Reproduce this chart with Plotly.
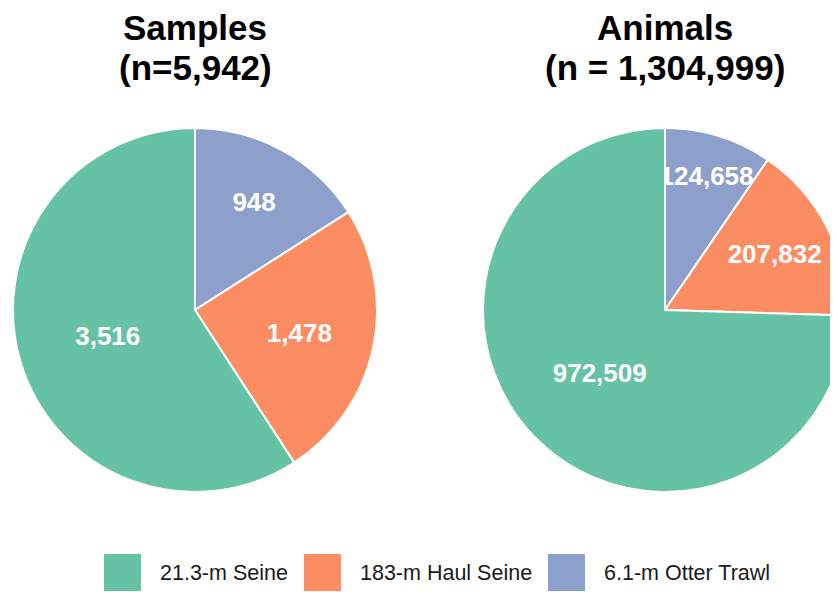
import plotly.graph_objects as go

gears = ["21.3-m Seine", "183-m Haul Seine", "6.1-m Otter Trawl"]
samples = [3516, 1478, 948]
animals = [972509, 207832, 124658]
colors = ["#66C2A5", "#FC8D62", "#8DA0CB"]
title_top = ["Samples", "Animals"]
title_bottom = ["(n=5,942)", "(n = 1,304,999)"]

W, H = 850, 592
FONT = "Liberation Sans, Arial, sans-serif"


def px(x):
    return x / W


def py(y):
    return 1 - y / H


fig = go.Figure()

# slices listed in reverse so the Seine slice runs counterclockwise from 12 o'clock
for vals, (x0, x1) in [(samples, (5, 369)), (animals, (475, 839))]:
    fig.add_trace(go.Pie(
        labels=gears[::-1], values=vals[::-1], sort=False, direction="clockwise", rotation=0,
        marker=dict(colors=colors[::-1], line=dict(color="white", width=2)),
        texttemplate="<b>%{value:,}</b>", textposition="inside",
        insidetextorientation="horizontal",
        textfont=dict(color="white", size=26, family=FONT),
        domain=dict(x=[px(x0), px(x1)], y=[py(484), py(120)]),
        showlegend=False, hoverinfo="label+value",
    ))

# two-line bold titles above each pie
for xc, t1, t2 in zip([187, 657], title_top, title_bottom):
    fig.add_annotation(x=px(xc), y=py(20), xref="paper", yref="paper", text=f"<b>{t1}</b>",
                       showarrow=False, xanchor="center", yanchor="middle",
                       font=dict(size=35, color="black"))
    fig.add_annotation(x=px(xc), y=py(59), xref="paper", yref="paper", text=f"<b>{t2}</b>",
                       showarrow=False, xanchor="center", yanchor="middle",
                       font=dict(size=35, color="black"))

# legend with large square keys
for i, (name, col) in enumerate(zip(gears, colors)):
    left = [96, 296, 540][i]
    fig.add_shape(type="rect", xref="paper", yref="paper",
                  x0=px(left), x1=px(left + 37), y0=py(546), y1=py(583),
                  fillcolor=col, line=dict(width=0))
    fig.add_annotation(x=px(left + 54), y=py(565), xref="paper", yref="paper", text=name,
                       showarrow=False, xanchor="left", yanchor="middle",
                       font=dict(size=21.5, color="#1a1a1a"))

fig.update_layout(
    width=W, height=H,
    margin=dict(l=0, r=0, t=0, b=0),
    paper_bgcolor="white",
    font=dict(family=FONT, color="black"),
    uniformtext=dict(minsize=26, mode="show"),
)

fig.write_html("out.html")
